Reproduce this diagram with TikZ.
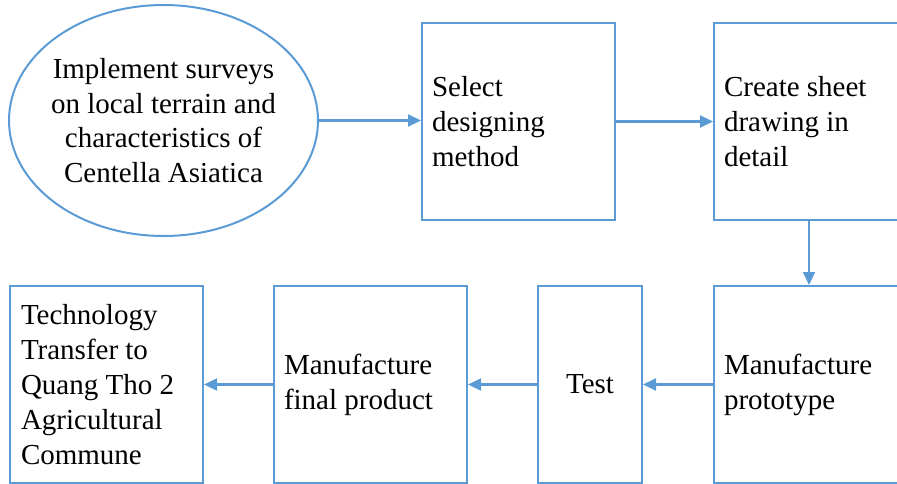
\documentclass[tikz,border=0pt]{standalone}
\usepackage{fontspec}
\setmainfont{Liberation Serif}
\usetikzlibrary{shapes.geometric,arrows.meta}
\definecolor{lineblue}{HTML}{5B9BD5}
\tikzset{
  box/.style={draw=lineblue, line width=2pt, rectangle, anchor=north west,
    minimum height=197pt, inner xsep=10pt, inner ysep=0pt, align=left,
    font=\fontsize{29}{35}\selectfont,
    execute at begin node={\spaceskip=0pt\xspaceskip=0pt\relax}},
  conn/.style={draw=lineblue, line width=2.2pt, -{Triangle[length=13pt,width=12pt]}},
}
\begin{document}
\begin{tikzpicture}[x=1pt,y=-1pt]
\useasboundingbox (0,0) rectangle (897,483);
\clip (0,0) rectangle (897,483);
\node[draw=lineblue, line width=2pt, ellipse, minimum width=309pt, minimum height=231pt, inner sep=0pt] (survey) at (163.5,120.5) {};
\node[align=center, font=\fontsize{29}{34.5}\selectfont] (surveytext) at (survey.center) {Implement surveys\\on local terrain and\\characteristics of\\Centella Asiatica};
\node[box, minimum width=193pt, text width=173pt] (select) at (421,22) {Select\\designing\\method};
\node[box, minimum width=200pt, text width=180pt] (create) at (713,22) {Create sheet\\drawing in\\detail};
\node[box, minimum width=200pt, text width=180pt] (proto) at (713,285) {Manufacture\\prototype};
\node[box, minimum width=104pt, text width=84pt, align=center] (test) at (537,285) {Test};
\node[box, minimum width=193pt, text width=173pt] (final) at (273,285) {Manufacture\\final product};
\node[box, minimum width=193pt, text width=171pt, inner xsep=11pt] (transfer) at (9,285) {Technology\\Transfer to\\Quang Tho 2\\Agricultural\\Commune};
\draw[conn] (survey.east) -- (survey.east -| select.west);
\draw[conn] (select.east) -- (create.west);
\draw[conn] (809,219) coordinate (c1) -- (809,285) coordinate (c2);
\draw[conn] (proto.west) -- (test.east);
\draw[conn] (test.west) -- (final.east);
\draw[conn] (final.west) -- (transfer.east);
\end{tikzpicture}
\end{document}
